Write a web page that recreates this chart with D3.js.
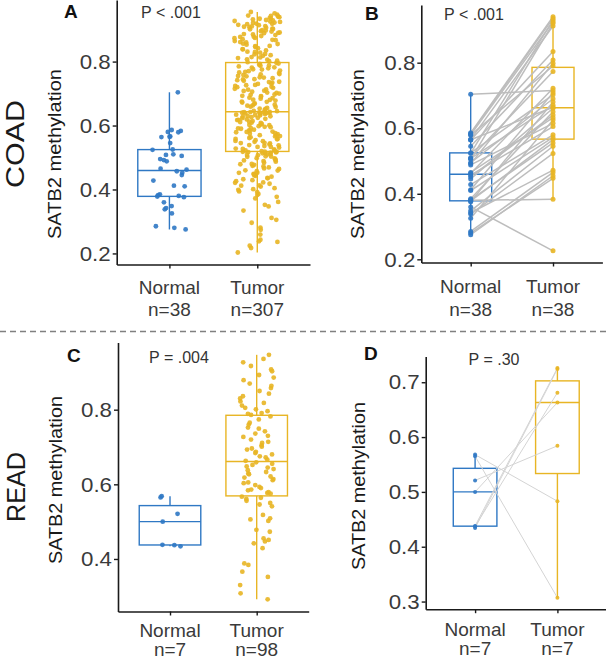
<!DOCTYPE html>
<html>
<head>
<meta charset="utf-8">
<script src="https://cdn.jsdelivr.net/npm/d3@7"></script>
<style>
  body { margin: 0; background: #fff; }
  svg { display: block; font-family: "Liberation Sans", Arial, Helvetica, sans-serif; }
</style>
</head>
<body>
<svg width="606" height="661"></svg>
<script>
// groups on the x axis
const groups = ['Normal', 'Tumor'];

// COAD normal samples (38), same samples in panel A and B
const coadNormal = [0.704, 0.586, 0.580, 0.564, 0.583, 0.579, 0.565, 0.566, 0.545, 0.524,
  0.525, 0.510, 0.508, 0.505, 0.492, 0.488, 0.495, 0.462, 0.457, 0.452,
  0.445, 0.428, 0.412, 0.410, 0.385, 0.380, 0.378, 0.376, 0.382, 0.360,
  0.348, 0.338, 0.342, 0.325, 0.285, 0.280, 0.275, 0.465];

// COAD tumor samples (307), panel A
const coadTumor = [
  0.203, 0.217, 0.224, 0.236, 0.238, 0.243, 0.259, 0.274, 0.281, 0.296, 0.305, 0.311, 0.334, 0.347, 0.352, 0.361, 0.372, 0.377,
  0.383, 0.386, 0.392, 0.394, 0.399, 0.401, 0.404, 0.409, 0.412, 0.413, 0.418, 0.421, 0.422, 0.426, 0.429, 0.432, 0.435, 0.436, 0.44, 0.443,
  0.444, 0.447, 0.449, 0.452, 0.452, 0.457, 0.459, 0.46, 0.464, 0.466, 0.469, 0.472, 0.474, 0.477, 0.479, 0.48, 0.484, 0.487, 0.489, 0.491,
  0.492, 0.494, 0.497, 0.498, 0.502, 0.503, 0.504, 0.507, 0.508, 0.51, 0.511, 0.513, 0.514, 0.515, 0.516, 0.517, 0.518, 0.518, 0.518,
  0.52, 0.522, 0.522, 0.525, 0.527, 0.528, 0.531, 0.533, 0.533, 0.536, 0.538, 0.539, 0.541, 0.544, 0.545, 0.546, 0.549, 0.551, 0.552, 0.554,
  0.557, 0.558, 0.558, 0.561, 0.563, 0.566, 0.567, 0.569, 0.57, 0.573, 0.574, 0.576, 0.579, 0.58, 0.581, 0.584, 0.585, 0.587, 0.59, 0.591,
  0.592, 0.595, 0.596, 0.598, 0.601, 0.602, 0.603, 0.605, 0.608, 0.609, 0.611, 0.612, 0.614, 0.617, 0.618, 0.619, 0.621, 0.623, 0.624, 0.626,
  0.628, 0.629, 0.63, 0.632, 0.633, 0.634, 0.636, 0.637, 0.638, 0.639, 0.64, 0.64, 0.641, 0.641, 0.642, 0.642, 0.643,
  0.645, 0.646, 0.649, 0.652, 0.653, 0.655, 0.658, 0.659, 0.662, 0.663, 0.665, 0.668, 0.669, 0.672, 0.674, 0.675, 0.678, 0.68, 0.681, 0.684,
  0.686, 0.687, 0.69, 0.692, 0.693, 0.696, 0.697, 0.7, 0.702, 0.703, 0.706, 0.708, 0.709, 0.712, 0.713, 0.715, 0.718, 0.72, 0.721, 0.724,
  0.726, 0.727, 0.73, 0.731, 0.734, 0.736, 0.737, 0.74, 0.742, 0.744, 0.745, 0.748, 0.75, 0.751, 0.754, 0.755, 0.758, 0.76, 0.761, 0.764,
  0.766, 0.768, 0.77, 0.772, 0.775, 0.776, 0.779, 0.781, 0.782, 0.785, 0.787, 0.788, 0.79, 0.793, 0.794, 0.796,
  0.798, 0.801, 0.803, 0.806, 0.807, 0.811, 0.813, 0.814, 0.818, 0.82, 0.823, 0.824, 0.828, 0.83, 0.831, 0.835, 0.838, 0.839, 0.842, 0.846,
  0.848, 0.849, 0.853, 0.855, 0.856, 0.86, 0.861, 0.864, 0.867, 0.868, 0.87, 0.873, 0.874, 0.877, 0.878, 0.88, 0.883, 0.885, 0.886, 0.889,
  0.89, 0.891, 0.894, 0.895, 0.897, 0.898, 0.901, 0.902, 0.903, 0.906, 0.907, 0.909, 0.91, 0.911, 0.914, 0.915, 0.917, 0.918, 0.919, 0.921,
  0.922, 0.924, 0.925, 0.927, 0.929, 0.93, 0.932, 0.934, 0.935, 0.937, 0.939, 0.941, 0.943, 0.944, 0.947, 0.951, 0.955];

// COAD paired tumor (38), same order as coadNormal, panel B
const coadPairedTumor = [0.715, 0.940, 0.925, 0.834, 0.935, 0.790, 0.664, 0.912, 0.808, 0.930,
  0.702, 0.773, 0.670, 0.920, 0.798, 0.615, 0.690, 0.722, 0.605, 0.640,
  0.661, 0.580, 0.708, 0.572, 0.650, 0.383, 0.565, 0.680, 0.555, 0.226,
  0.545, 0.523, 0.472, 0.625, 0.465, 0.447, 0.455, 0.632];

// READ normal (7), panel C and D
const readNormal = [0.568, 0.565, 0.521, 0.500, 0.438, 0.437, 0.434];

// READ tumor (98), panel C
const readTumor = [
  0.292, 0.308, 0.33, 0.352, 0.366, 0.384, 0.388, 0.429, 0.442, 0.447, 0.451, 0.455, 0.473, 0.478, 0.502, 0.506, 0.509, 0.518,
  0.541, 0.546, 0.55, 0.556, 0.561, 0.564, 0.567,
  0.575, 0.577, 0.579, 0.584, 0.586, 0.59, 0.593, 0.598, 0.603, 0.605, 0.611, 0.614, 0.618, 0.621, 0.627, 0.629, 0.633, 0.638,
  0.641, 0.645, 0.648, 0.652, 0.655, 0.659,
  0.663, 0.666, 0.672, 0.675, 0.68, 0.684, 0.687, 0.693, 0.696, 0.701, 0.705, 0.711, 0.714, 0.72, 0.727, 0.73, 0.736, 0.742,
  0.749, 0.752, 0.76, 0.765, 0.774, 0.782,
  0.786, 0.789, 0.791, 0.796, 0.801, 0.805, 0.811, 0.818, 0.822, 0.83, 0.836, 0.843, 0.85, 0.858, 0.864, 0.87, 0.879, 0.886,
  0.893, 0.903, 0.908, 0.917, 0.927, 0.936, 0.947];

// READ paired tumor (7), same order as readNormal, panel D
const readPairedTumor = [0.483, 0.307, 0.584, 0.663, 0.726, 0.681, 0.724];

const pLabels = ['P < .001', 'P < .001', 'P = .004', 'P = .30'];
const panelLetters = ['A', 'B', 'C', 'D'];
const rowLabels = ['COAD', 'READ'];
const yTicksA = [0.2, 0.4, 0.6, 0.8];
const yTicksC = [0.4, 0.6, 0.8];
const yTicksD = [0.3, 0.4, 0.5, 0.6, 0.7];

const colors = { Normal: '#2F78C4', Tumor: '#E8B524' };
const font = '"Liberation Sans", Arial, Helvetica, sans-serif';

const svg = d3.select('svg');

// deterministic jitter
function jit(i, seed) {
  const s = Math.sin((i + 1) * 12.9898 + seed * 78.233) * 43758.5453;
  return s - Math.floor(s) - 0.5;
}

function boxStats(vals) {
  const s = vals.slice().sort(d3.ascending);
  const q1 = d3.quantile(s, 0.25), med = d3.quantile(s, 0.5), q3 = d3.quantile(s, 0.75);
  const iqr = q3 - q1;
  const lo = d3.min(s.filter(v => v >= q1 - 1.5 * iqr));
  const hi = d3.max(s.filter(v => v <= q3 + 1.5 * iqr));
  return { q1, med, q3, lo, hi };
}

function drawPanel(p) {
  const g = svg.append('g');
  const data = { Normal: p.normal, Tumor: p.tumor };
  const ext = d3.extent(p.normal.concat(p.tumor));
  const pad = (ext[1] - ext[0]) * 0.05;

  const y = d3.scaleLinear().domain([ext[0] - pad, ext[1] + pad]).range([p.bottom, p.top]);
  const x = d3.scalePoint().domain(groups).range([p.left, p.right]).padding(0.6);
  const step = x.step();
  const bw = step * p.boxFrac;

  // boxes
  groups.forEach(k => {
    const st = boxStats(data[k]);
    const cx = x(k);
    const c = colors[k];
    g.append('line').attr('x1', cx).attr('x2', cx).attr('y1', y(st.q3)).attr('y2', y(st.hi))
      .attr('stroke', c).attr('stroke-width', 1.4);
    g.append('line').attr('x1', cx).attr('x2', cx).attr('y1', y(st.q1)).attr('y2', y(st.lo))
      .attr('stroke', c).attr('stroke-width', 1.4);
    g.append('rect').attr('x', cx - bw / 2).attr('y', y(st.q3))
      .attr('width', bw).attr('height', y(st.q1) - y(st.q3))
      .attr('fill', 'none').attr('stroke', c).attr('stroke-width', 1.4);
    g.append('line').attr('x1', cx - bw / 2).attr('x2', cx + bw / 2)
      .attr('y1', y(st.med)).attr('y2', y(st.med))
      .attr('stroke', c).attr('stroke-width', 1.4);
  });

  // paired lines
  if (p.paired) {
    g.selectAll('line.pair')
      .data(p.normal.map((v, i) => [v, p.tumor[i]]))
      .enter().append('line')
      .attr('class', 'pair')
      .attr('x1', x('Normal')).attr('x2', x('Tumor'))
      .attr('y1', d => y(d[0])).attr('y2', d => y(d[1]))
      .attr('stroke', p.lineColor).attr('stroke-width', p.lineWidth);
  }

  // points
  groups.forEach((k, gi) => {
    const amp = p.jitter[gi] * step * 2;
    g.selectAll(null)
      .data(data[k])
      .enter().append('circle')
      .attr('cx', (d, i) => x(k) + (p.paired ? 0 : jit(i, gi + p.seed) * amp))
      .attr('cy', d => y(d))
      .attr('r', p.r)
      .attr('fill', colors[k])
      .attr('fill-opacity', 0.9);
  });

  // axes
  const ya = g.append('g').attr('transform', `translate(${p.left},0)`)
    .call(d3.axisLeft(y).tickValues(p.ticks).tickSize(4).tickSizeOuter(0).tickFormat(d3.format('.1f')));
  const xa = g.append('g').attr('transform', `translate(0,${p.bottom})`)
    .call(d3.axisBottom(x).tickSize(4).tickSizeOuter(0).tickFormat(''));
  [ya, xa].forEach(a => {
    a.select('.domain').attr('stroke', '#1a1a1a').attr('stroke-width', 1.6);
    a.selectAll('.tick line').attr('stroke', '#1a1a1a').attr('stroke-width', 1.4);
  });
  ya.selectAll('.tick text').attr('fill', '#3a3a3a').attr('font-size', 21)
    .attr('font-family', font).attr('x', -6)
    .attr('textLength', 31).attr('lengthAdjust', 'spacingAndGlyphs');

  groups.forEach(k => {
    g.append('text').attr('x', x(k)).attr('y', p.bottom + p.lab1)
      .attr('text-anchor', 'middle').attr('font-size', 19).attr('fill', '#3a3a3a')
      .text(k);
    g.append('text').attr('x', x(k)).attr('y', p.bottom + p.lab2)
      .attr('text-anchor', 'middle').attr('font-size', 19).attr('fill', '#3a3a3a')
      .text('n=' + data[k].length);
  });

  // y title
  g.append('text')
    .attr('transform', `translate(${p.titleX},${p.titleY}) rotate(-90)`)
    .attr('text-anchor', 'middle').attr('font-size', 18).attr('fill', '#1a1a1a')
    .attr('textLength', p.titleLen).attr('lengthAdjust', 'spacingAndGlyphs')
    .text('SATB2 methylation');

  // p value
  g.append('text').attr('x', p.pX).attr('y', p.pY)
    .attr('text-anchor', 'middle').attr('font-size', 16).attr('fill', '#333')
    .text(p.pText);

  // panel letter
  g.append('text').attr('x', p.letterX).attr('y', p.letterY)
    .attr('font-size', 19).attr('font-weight', 'bold').attr('fill', '#111')
    .text(p.letter);
}

drawPanel({ normal: coadNormal, tumor: coadTumor, paired: false,
  left: 116.7, right: 310, top: 0, bottom: 264.5, boxFrac: 0.72, jitter: [0.2, 0.26], r: 2.4, seed: 1,
  ticks: yTicksA, titleX: 61, titleY: 154, titleLen: 170, lab1: 29, lab2: 51,
  pX: 171, pY: 18, pText: pLabels[0], letter: panelLetters[0], letterX: 64, letterY: 18 });

drawPanel({ normal: coadNormal, tumor: coadPairedTumor, paired: true, lineColor: '#bdbdbd', lineWidth: 1.5,
  left: 421.3, right: 602.4, top: 5.1, bottom: 262.5, boxFrac: 0.51, jitter: [0, 0], r: 2.5, seed: 3,
  ticks: yTicksA, titleX: 364, titleY: 154, titleLen: 170, lab1: 30, lab2: 53,
  pX: 474, pY: 20, pText: pLabels[1], letter: panelLetters[1], letterX: 365, letterY: 20 });

drawPanel({ normal: readNormal, tumor: readTumor, paired: false,
  left: 118, right: 308.7, top: 342.6, bottom: 611.5, boxFrac: 0.71, jitter: [0.14, 0.2], r: 2.4, seed: 5,
  ticks: yTicksC, titleX: 62, titleY: 480, titleLen: 168, lab1: 25, lab2: 44,
  pX: 179, pY: 363, pText: pLabels[2], letter: panelLetters[2], letterX: 67, letterY: 362 });

drawPanel({ normal: readNormal, tumor: readPairedTumor, paired: true, lineColor: '#d4d4d4', lineWidth: 1,
  left: 425.7, right: 606.8, top: 356.5, bottom: 609.2, boxFrac: 0.53, jitter: [0, 0], r: 2, seed: 7,
  ticks: yTicksD, titleX: 365, titleY: 486, titleLen: 168, lab1: 27, lab2: 46,
  pX: 494, pY: 365, pText: pLabels[3], letter: panelLetters[3], letterX: 364, letterY: 360 });

// row labels
svg.append('text').attr('transform', 'translate(24,144) rotate(-90)')
  .attr('text-anchor', 'middle').attr('font-size', 25).attr('fill', '#1a1a1a')
  .attr('textLength', 88).attr('lengthAdjust', 'spacingAndGlyphs').text(rowLabels[0]);
svg.append('text').attr('transform', 'translate(25,487) rotate(-90)')
  .attr('text-anchor', 'middle').attr('font-size', 25).attr('fill', '#1a1a1a')
  .attr('textLength', 70).attr('lengthAdjust', 'spacingAndGlyphs').text(rowLabels[1]);

// dashed separator
svg.append('line').attr('x1', 0).attr('x2', 606).attr('y1', 331.5).attr('y2', 331.5)
  .attr('stroke', '#808080').attr('stroke-width', 1.5).attr('stroke-dasharray', '6,4');
</script>
</body>
</html>
